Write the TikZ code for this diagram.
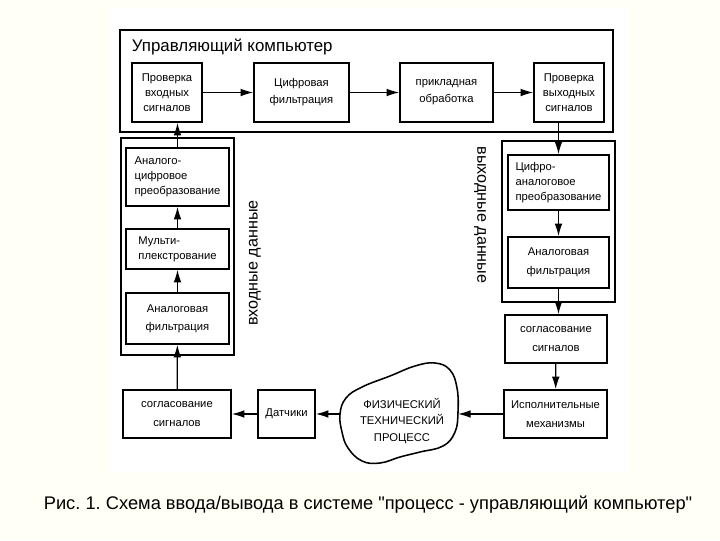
\documentclass[tikz,border=0pt]{standalone}
\usepackage{fontspec}
\setmainfont{Liberation Sans}[Ligatures=TeXOff]
\usetikzlibrary{arrows.meta}
\definecolor{paper}{RGB}{255,255,245}
\frenchspacing

\begin{document}
\begin{tikzpicture}[x=0.025cm,y=-0.025cm,
    blok/.style={draw,line width=1.1pt,inner sep=2pt,font=\fontsize{8}{10.5}\selectfont,align=center},
    rama/.style={draw,line width=1.1pt,inner sep=0pt},
    strelka/.style={-{Latex[length=9pt,width=5.5pt]},line width=0.9pt}]

    \fill[paper] (0,0) rectangle (720,540);
    \fill[white] (110,8) rectangle (628,472);
    \useasboundingbox (0,0) rectangle (720,540);

    % управляющий компьютер
    \node[rama,minimum width=12.325cm,minimum height=2.55cm] (pc) at (366.5,81) {};
    \node[anchor=west,font=\fontsize{12}{14}\selectfont] (pctitle) at (127,47) {Управляющий компьютер};

    \node[blok,minimum width=1.75cm,minimum height=1.475cm] (vhodcheck) at (167,92.5) {Проверка\\входных\\сигналов};
    \node[blok,minimum width=2.375cm,minimum height=1.475cm] (cifrfilt) at (301.5,92.5) {Цифровая\\[1.5pt]фильтрация};
    \node[blok,minimum width=2.325cm,minimum height=1.475cm] (obrab) at (446.5,92.5) {прикладная\\[1.5pt]обработка};
    \node[blok,minimum width=1.75cm,minimum height=1.475cm] (vyhcheck) at (569,92.5) {Проверка\\выходных\\сигналов};

    % входные данные
    \node[rama,minimum width=2.825cm,minimum height=5.425cm] (vhod) at (177.5,246.5) {};
    \node[blok,align=left,minimum width=2.575cm,minimum height=1.45cm] (acp) at (177.5,177) {Аналого-\\цифровое\\преобразование};
    \node[blok,align=left,minimum width=2.575cm,minimum height=1cm] (mux) at (177.5,249) {Мульти-\\плекстрование};
    \node[blok,minimum width=2.575cm,minimum height=1.275cm] (afiltin) at (177.5,318.5) {Аналоговая\\[2.5pt]фильтрация};
    \node[rotate=90,font=\fontsize{11.5}{13}\selectfont] (vhodlbl) at (255,263) {входные данные};

    % выходные данные
    \node[rama,minimum width=2.825cm,minimum height=4.025cm] (vyhod) at (558.5,221.5) {};
    \node[blok,align=left,minimum width=2.525cm,minimum height=1.375cm] (cap) at (558.5,182.5) {Цифро-\\аналоговое\\преобразование};
    \node[blok,minimum width=2.525cm,minimum height=1.275cm] (afiltout) at (558.5,262.5) {Аналоговая\\[3pt]фильтрация};
    \node[rotate=-90,font=\fontsize{11.5}{13}\selectfont] (vyhodlbl) at (480,215) {выходные данные};
    \node[blok,minimum width=2.55cm,minimum height=1.2cm] (soglout) at (556,339) {согласование\\[3pt]сигналов};

    % объект
    \node[blok,minimum width=2.575cm,minimum height=1.2cm] (ispoln) at (555.5,414) {Исполнительные\\[3pt]механизмы};
    \node[blok,minimum width=1.425cm,minimum height=1.2cm] (datch) at (286.5,414) {Датчики};
    \node[blok,minimum width=2.7cm,minimum height=1.2cm] (soglin) at (177,414) {согласование\\[3.5pt]сигналов};

    \draw[line width=1.1pt] plot[smooth cycle,tension=0.7] coordinates {(340,414) (346,398) (362,387) (390,376) (415,366) (435,363) (450,370) (457,388) (458,412) (455,432) (443,446) (420,452) (400,457) (380,463) (362,461) (348,448) (342,432)};
    \node[align=center,font=\fontsize{8}{11.7}\selectfont] (proc) at (402,421) {ФИЗИЧЕСКИЙ\\ТЕХНИЧЕСКИЙ\\ПРОЦЕСС};
    \coordinate (procE) at (458,414);
    \coordinate (procW) at (340,414);

    \draw[strelka] (vhodcheck) -- (cifrfilt);
    \draw[strelka] (cifrfilt) -- (obrab);
    \draw[strelka] (obrab) -- (vyhcheck);
    \draw[strelka] (vyhcheck.south -| cap.north) -- (cap.north);
    \draw[strelka] (cap) -- (afiltout);
    \draw[strelka] (afiltout.south) -- (afiltout.south |- soglout.north);
    \draw[strelka] (soglout) -- (ispoln);
    \draw[strelka] (ispoln) -- (procE);
    \draw[strelka] (procW) -- (datch);
    \draw[strelka] (datch) -- (soglin);
    \draw[strelka] (soglin) -- (afiltin);
    \draw[strelka] (afiltin) -- (mux);
    \draw[strelka] (mux) -- (acp);
    \draw[strelka] (acp.north) -- (acp.north |- vhodcheck.south);

    \node[font=\fontsize{13}{15}\selectfont] (podpis) at (368,505) {Рис. 1. Схема ввода/вывода в системе "процесс - управляющий компьютер"};

  \end{tikzpicture}
\end{document}
